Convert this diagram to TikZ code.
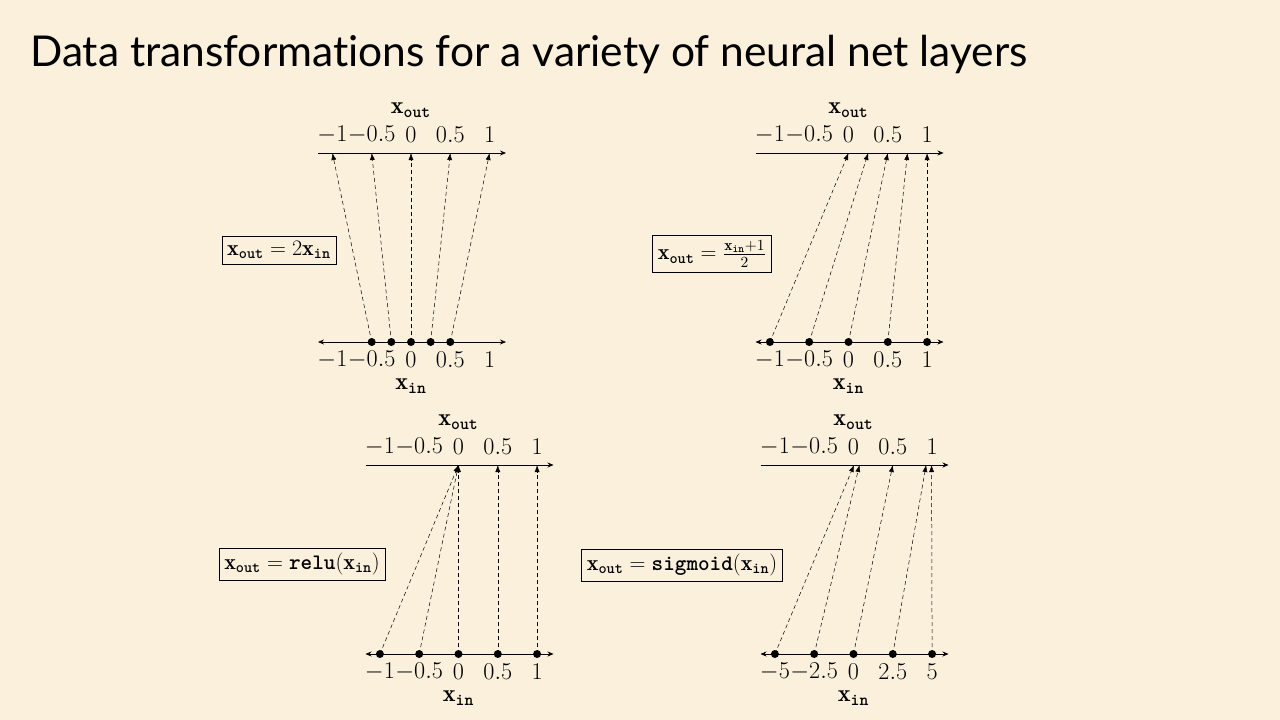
\documentclass[tikz,border=0pt]{standalone}
\usepackage{fix-cm}
\usepackage{amsmath}
\usepackage{fontspec}
\newfontfamily\titlefont{Lato}
\usetikzlibrary{arrows.meta}
\definecolor{bg}{HTML}{FAF0DC}
\newcommand\tts[1]{\text{\ttfamily\bfseries #1}}
\newcommand\xout{\mathbf{x}_{\tts{out}}}
\newcommand\xinp{\mathbf{x}_{\tts{in}}}
\tikzset{
  lbl/.style={font=\fontsize{17}{19}\selectfont,inner sep=0pt,scale=1.42},
  eqbox/.style={draw,fill=bg,line width=0.5pt,inner sep=4pt,font=\fontsize{17}{19}\selectfont,scale=1.3},
  dot/.style={circle,fill=black,inner sep=0pt,minimum size=8pt},
  map/.style={line width=0.5pt,dash pattern=on 4pt off 3pt,-{Latex[length=7pt,width=5pt]}},
  axis/.style={line width=0.7pt}
}
% #1 name, #2 cx, #3 yo, #4 yi, #5 list in/out, #6 in labels list pos/label
\newcommand\panel[6]{%
  \draw[axis,-{Stealth[length=6pt,width=5pt]}] ({#2-93},#3) -- ({#2+95},#3);
  \draw[axis,{Stealth[length=6pt,width=5pt]}-{Stealth[length=6pt,width=5pt]}] ({#2-93},#4) -- ({#2+95},#4);
  \foreach \v/\t in {-1/$-1$,-0.5/$-0.5$,0/$0$,0.5/$0.5$,1/$1$}
    \node[lbl] (#1ot\v) at ({#2+78.6*\v},#3-18) {\t};
  \foreach \v/\t in {#6}
    \node[lbl] (#1it\v) at ({#2+78.6*\v},#4+18) {\t};
  \node[lbl] (#1xo) at (#2,#3-43) {$\xout$};
  \node[lbl] (#1xi) at (#2,#4+44) {$\xinp$};
  \foreach \a/\b [count=\k] in {#5}{
    \coordinate (#1o\k) at ({#2+78.6*\b},#3);
    \node[dot] (#1i\k) at ({#2+78.6*\a},#4) {};
    \draw[map] (#1i\k.center) -- (#1o\k);
  }
}
\begin{document}
\begin{tikzpicture}[x=1pt,y=-1pt]
\fill[bg] (0,0) rectangle (1280,720);
\useasboundingbox (0,0) rectangle (1280,720);
\node[anchor=base west,inner sep=0pt,font=\titlefont\fontsize{42.5}{48}\selectfont] (title) at (30,66) {Data transformat\kern0pt ions for a variety of neural net layers};
\panel{a}{411}{153}{342}{-0.5/-1,-0.25/-0.5,0/0,0.25/0.5,0.5/1}{-1/$-1$,-0.5/$-0.5$,0/$0$,0.5/$0.5$,1/$1$}
\panel{b}{848.5}{153}{342}{-1/0,-0.5/0.25,0/0.5,0.5/0.75,1/1}{-1/$-1$,-0.5/$-0.5$,0/$0$,0.5/$0.5$,1/$1$}
\panel{c}{458.5}{465}{654}{-1/0,-0.5/0,0/0,0.5/0.5,1/1}{-1/$-1$,-0.5/$-0.5$,0/$0$,0.5/$0.5$,1/$1$}
\panel{d}{853.5}{465}{654}{-1/0.0067,-0.5/0.0759,0/0.5,0.5/0.9241,1/0.9933}{-1/$-5$,-0.5/$-2.5$,0/$0$,0.5/$2.5$,1/$5$}
\node[eqbox] (ea) at (279,250) {$\xout = 2\xinp$};
\node[eqbox] (eb) at (712,254) {$\xout = \frac{\xinp+1}{2}$};
\node[eqbox] (ec) at (302,564) {$\xout = \tts{relu}(\xinp)$};
\node[eqbox] (ed) at (682,565) {$\xout = \tts{sigmoid}(\xinp)$};
\end{tikzpicture}
\end{document}
